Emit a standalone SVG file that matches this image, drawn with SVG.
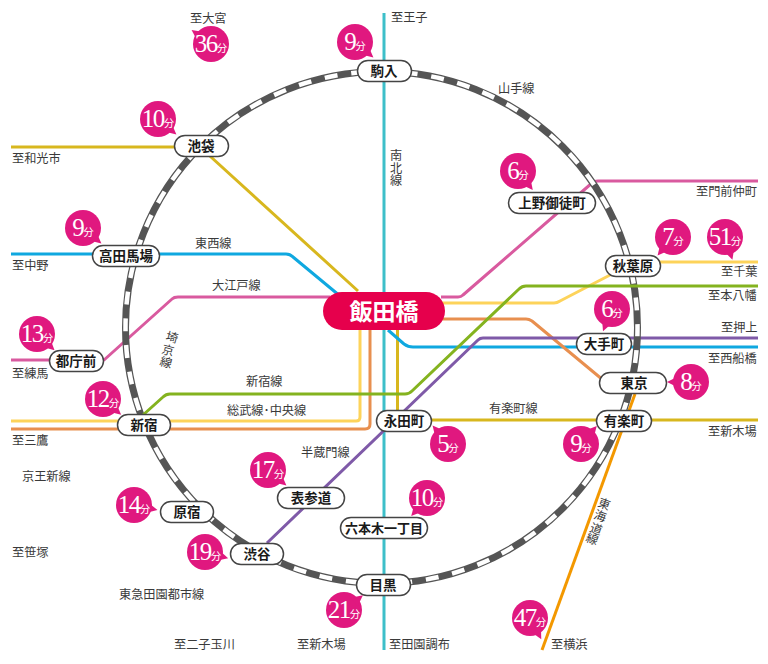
<svg xmlns="http://www.w3.org/2000/svg" width="768" height="664" viewBox="0 0 768 664">
<style>
text{font-family:"Noto Sans CJK JP","Noto Sans",sans-serif}
.l{fill:none;stroke-width:3;stroke-linejoin:round}
.lb{font-size:12.200px;fill:#3a3a3a}
.st rect{fill:#fff;stroke:#444;stroke-width:1.500}
.st text{font-size:13.500px;font-weight:700;fill:#1a1a1a;text-anchor:middle}
.b circle,.b use{fill:#e0187f}
.b text{fill:#fff;text-anchor:middle;font-family:"Liberation Serif",serif;font-size:25px;letter-spacing:-1.500px}
.b tspan{font-family:"Noto Sans CJK JP",sans-serif;font-size:10.500px;letter-spacing:0}
</style>
<defs><path id="t" d="M13,-5.500 L24,0 L13,5.500Z"/></defs>
<rect width="768" height="664" fill="#fff"/>
<g id="connectors">
<path class="l" stroke="#3dbfc9" d="M384,13V650"/>
<path class="l" stroke="#d8b71e" d="M11,147H200L358,291"/>
<path class="l" stroke="#d8b71e" d="M397.500,330V420H758"/>
<path class="l" stroke="#0fa8e0" d="M11,254H286Q290,254 293,257L340,296"/>
<path class="l" stroke="#0fa8e0" d="M388,330L404,344Q408,347 413,347H758"/>
<path class="l" stroke="#d95a9f" d="M11,360H104L172,299Q174,297 178,297H330"/>
<path class="l" stroke="#d95a9f" d="M441,297H458Q461,297 463,295L592,183Q594,181 598,181H758"/>
<path class="l" stroke="#fdd35a" d="M441,303H554Q557,303 560,301L612,274"/>
<path class="l" stroke="#fdd35a" d="M655,262H758"/>
<path class="l" stroke="#fdd35a" d="M11,421H356Q360,421 360,417V330"/>
<path class="l" stroke="#e88f4f" d="M11,429H365Q370,429 370,424V330"/>
<path class="l" stroke="#e88f4f" d="M441,319H526Q529,319 532,321L603,380"/>
<path class="l" stroke="#7f5aa8" d="M758,338H483Q480,338 478,340L267,543"/>
<path class="l" stroke="#f39800" d="M635,394L542,650"/>
</g>
<g id="yamanote">
<circle cx="381.500" cy="327.500" r="256" fill="none" stroke="#555" stroke-width="7"/>
<circle cx="381.500" cy="327.500" r="256" fill="none" stroke="#fff" stroke-width="4.500" stroke-dasharray="13 13.810" stroke-dashoffset="4.170"/>
</g>
<g id="connector-shinjuku">
<path class="l" stroke="#84b31f" d="M758,286H526Q522,286 519,289L412,391Q409,394 405,394H170Q166,394 163,397L143,415"/>
</g>
<g id="hub"><rect x="323" y="292" width="122" height="38" rx="19" fill="#e6004c"/><text x="384" y="320" font-size="23" font-weight="700" fill="#fff" text-anchor="middle">飯田橋</text></g>
<g id="st-komagome" class="st"><rect x="357.500" y="60.500" width="54" height="21" rx="10.500"/><text x="384" y="76">駒入</text></g>
<g id="st-ikebukuro" class="st"><rect x="174.500" y="135.500" width="54" height="21" rx="10.500"/><text x="201" y="151">池袋</text></g>
<g id="st-takadanobaba" class="st"><rect x="92.500" y="245.500" width="67" height="21" rx="10.500"/><text x="126" y="261">高田馬場</text></g>
<g id="st-tochomae" class="st"><rect x="49.500" y="350.500" width="54" height="21" rx="10.500"/><text x="76" y="366">都庁前</text></g>
<g id="st-shinjuku" class="st"><rect x="117.500" y="414.500" width="53" height="21" rx="10.500"/><text x="144" y="430">新宿</text></g>
<g id="st-harajuku" class="st"><rect x="160.500" y="501.500" width="53" height="21" rx="10.500"/><text x="187" y="517">原宿</text></g>
<g id="st-shibuya" class="st"><rect x="230.500" y="543.500" width="53" height="21" rx="10.500"/><text x="257" y="559">渋谷</text></g>
<g id="st-omotesando" class="st"><rect x="277.500" y="487.500" width="67" height="21" rx="10.500"/><text x="311" y="503">表参道</text></g>
<g id="st-roppongi" class="st"><rect x="340.500" y="517.500" width="87" height="21" rx="10.500"/><text x="384" y="533" style="font-size:13px">六本木一丁目</text></g>
<g id="st-meguro" class="st"><rect x="356.500" y="574.500" width="54" height="21" rx="10.500"/><text x="383" y="590">目黒</text></g>
<g id="st-nagatacho" class="st"><rect x="376.500" y="410.500" width="55" height="21" rx="10.500"/><text x="404" y="426">永田町</text></g>
<g id="st-yurakucho" class="st"><rect x="596.500" y="410.500" width="55" height="21" rx="10.500"/><text x="624" y="426">有楽町</text></g>
<g id="st-tokyo" class="st"><rect x="599.500" y="372.500" width="67" height="21" rx="10.500"/><text x="634" y="388">東京</text></g>
<g id="st-otemachi" class="st"><rect x="576.500" y="333.500" width="55" height="21" rx="10.500"/><text x="604" y="349">大手町</text></g>
<g id="st-akihabara" class="st"><rect x="605.500" y="255.500" width="55" height="21" rx="10.500"/><text x="633" y="271">秋葉原</text></g>
<g id="st-ueno" class="st"><rect x="508.500" y="192.500" width="87" height="21" rx="10.500"/><text x="552" y="208">上野御徒町</text></g>
<g id="badges">
<g class="b"><circle cx="211" cy="44" r="18"/><use href="#t" transform="translate(211,44) rotate(-144)"/><text x="211" y="52">36<tspan>分</tspan></text></g>
<g class="b"><circle cx="355" cy="42" r="18"/><use href="#t" transform="translate(355,42) rotate(40)"/><text x="355" y="50">9<tspan>分</tspan></text></g>
<g class="b"><circle cx="158" cy="119" r="18"/><use href="#t" transform="translate(158,119) rotate(40)"/><text x="158" y="127">10<tspan>分</tspan></text></g>
<g class="b"><circle cx="83" cy="228" r="18"/><use href="#t" transform="translate(83,228) rotate(40)"/><text x="83" y="236">9<tspan>分</tspan></text></g>
<g class="b"><circle cx="37" cy="334" r="18"/><use href="#t" transform="translate(37,334) rotate(43)"/><text x="37" y="342">13<tspan>分</tspan></text></g>
<g class="b"><circle cx="103" cy="399" r="18"/><use href="#t" transform="translate(103,399) rotate(41)"/><text x="103" y="407">12<tspan>分</tspan></text></g>
<g class="b"><circle cx="134" cy="505" r="18"/><use href="#t" transform="translate(134,505) rotate(12)"/><text x="134" y="513">14<tspan>分</tspan></text></g>
<g class="b"><circle cx="205" cy="552" r="18"/><use href="#t" transform="translate(205,552) rotate(15)"/><text x="205" y="560">19<tspan>分</tspan></text></g>
<g class="b"><circle cx="268" cy="470" r="18"/><use href="#t" transform="translate(268,470) rotate(40)"/><text x="268" y="478">17<tspan>分</tspan></text></g>
<g class="b"><circle cx="344" cy="610" r="18"/><use href="#t" transform="translate(344,610) rotate(-38)"/><text x="344" y="618">21<tspan>分</tspan></text></g>
<g class="b"><circle cx="427" cy="498" r="18"/><use href="#t" transform="translate(427,498) rotate(131)"/><text x="427" y="506">10<tspan>分</tspan></text></g>
<g class="b"><circle cx="530" cy="618" r="18"/><use href="#t" transform="translate(530,618) rotate(62)"/><text x="530" y="626">47<tspan>分</tspan></text></g>
<g class="b"><circle cx="448" cy="444" r="18"/><use href="#t" transform="translate(448,444) rotate(-130)"/><text x="448" y="452">5<tspan>分</tspan></text></g>
<g class="b"><circle cx="581" cy="444" r="18"/><use href="#t" transform="translate(581,444) rotate(-49)"/><text x="581" y="452">9<tspan>分</tspan></text></g>
<g class="b"><circle cx="691" cy="382" r="18"/><use href="#t" transform="translate(691,382) rotate(180)"/><text x="691" y="390">8<tspan>分</tspan></text></g>
<g class="b"><circle cx="612" cy="309" r="18"/><use href="#t" transform="translate(612,309) rotate(112)"/><text x="612" y="317">6<tspan>分</tspan></text></g>
<g class="b"><circle cx="673" cy="237" r="18"/><use href="#t" transform="translate(673,237) rotate(130)"/><text x="673" y="245">7<tspan>分</tspan></text></g>
<g class="b"><circle cx="725" cy="237" r="18"/><use href="#t" transform="translate(725,237) rotate(72)"/><text x="725" y="245">51<tspan>分</tspan></text></g>
<g class="b"><circle cx="518" cy="171" r="18"/><use href="#t" transform="translate(518,171) rotate(52)"/><text x="518" y="179">6<tspan>分</tspan></text></g>
</g>
<g id="labels">
<text class="lb" x="190" y="23">至大宮</text>
<text class="lb" x="391" y="22">至王子</text>
<text class="lb" x="498" y="93">山手線</text>
<text class="lb" x="390 390 390" y="160 172.500 185">南北線</text>
<text class="lb" x="12" y="163">至和光市</text>
<text class="lb" x="12" y="270">至中野</text>
<text class="lb" x="195" y="248">東西線</text>
<text class="lb" x="212" y="290">大江戸線</text>
<text class="lb" x="696" y="196">至門前仲町</text>
<text class="lb" x="721" y="276">至千葉</text>
<text class="lb" x="708" y="300">至本八幡</text>
<text class="lb" x="721" y="332">至押上</text>
<text class="lb" x="708" y="363">至西船橋</text>
<text class="lb" x="708" y="436">至新木場</text>
<text class="lb" x="489" y="413">有楽町線</text>
<text class="lb" x="246" y="386">新宿線</text>
<text class="lb" x="227" y="415">総武線･中央線</text>
<text class="lb" x="301" y="457">半蔵門線</text>
<text class="lb" x="165 161 159" y="340 353 365" rotate="15">埼京線</text>
<text class="lb" x="597 593 589 585" y="506 518 531 541" rotate="20">東海道線</text>
<text class="lb" x="12" y="378">至練馬</text>
<text class="lb" x="12" y="445">至三鷹</text>
<text class="lb" x="22" y="481">京王新線</text>
<text class="lb" x="12" y="557">至笹塚</text>
<text class="lb" x="119" y="599">東急田園都市線</text>
<text class="lb" x="174" y="649">至二子玉川</text>
<text class="lb" x="297" y="649">至新木場</text>
<text class="lb" x="389" y="649">至田園調布</text>
<text class="lb" x="551" y="649">至横浜</text>
</g>
</svg>
